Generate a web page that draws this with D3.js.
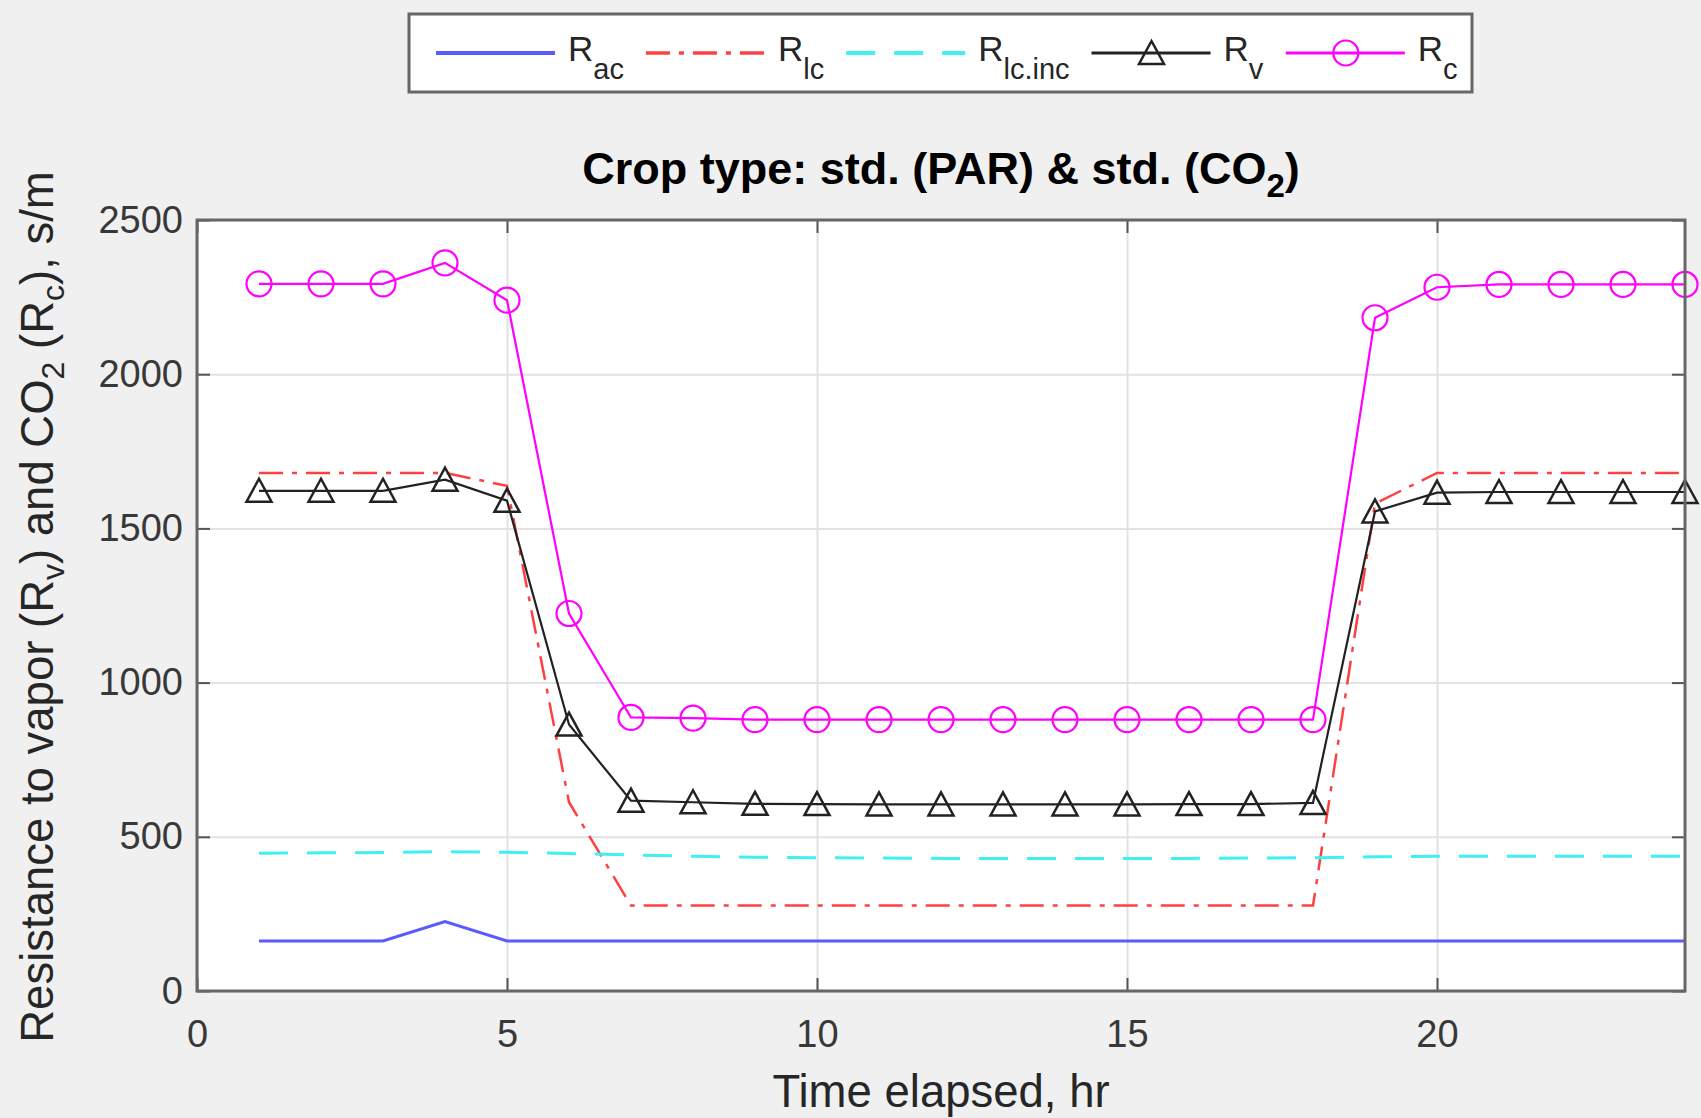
<!DOCTYPE html>
<html>
<head>
<meta charset="utf-8">
<script src="https://cdn.jsdelivr.net/npm/d3@7"></script>
<style>
  body { margin: 0; background: #f0f0f0; }
  svg { display: block; font-family: "Liberation Sans", Arial, sans-serif; }
</style>
</head>
<body>
<svg width="1701" height="1118"></svg>
<script>
// data (hours 1..24)
var hours  = [1,2,3,4,5,6,7,8,9,10,11,12,13,14,15,16,17,18,19,20,21,22,23,24];
var Rac    = [162,162,162,225,162,162,162,162,162,162,162,162,162,162,162,162,162,162,162,162,162,162,162,162];
var Rlc    = [1680,1680,1680,1680,1638,612,277,277,277,277,277,277,277,277,277,277,277,277,1580,1680,1680,1680,1680,1680];
var RlcInc = [447,448,449,452,450,446,441,437,434,432,431,430,430,430,430,430,431,432,435,437,437,437,437,437];
var Rv     = [1622,1622,1622,1658,1590,864,617,612,607,606,605,605,605,605,605,606,606,610,1555,1616,1618,1618,1618,1618];
var Rc     = [2293,2293,2293,2361,2240,1224,887,885,880,880,880,880,880,880,880,880,880,880,2183,2282,2291,2291,2291,2291];

var xTicks = [0,5,10,15,20];
var yTicks = [0,500,1000,1500,2000,2500];
var legendNames = [["R","ac"],["R","lc"],["R","lc.inc"],["R","v"],["R","c"]];

var svg = d3.select("svg");
var pL = 197, pR = 1685, pT = 220, pB = 991;

var x = d3.scaleLinear().domain([0, 24]).range([pL, pR]);
var y = d3.scaleLinear().domain([0, 2500]).range([pB, pT]);

// plot area
svg.append("rect")
   .attr("x", pL).attr("y", pT)
   .attr("width", pR - pL).attr("height", pB - pT)
   .attr("fill", "#fff");

// grid
var gx = svg.append("g").attr("transform", "translate(0," + pB + ")")
   .call(d3.axisBottom(x).tickValues(xTicks).tickSize(-(pB - pT)).tickFormat(""));
var gy = svg.append("g").attr("transform", "translate(" + pL + ",0)")
   .call(d3.axisLeft(y).tickValues(yTicks).tickSize(-(pR - pL)).tickFormat(""));
[gx, gy].forEach(function(g) {
  g.select(".domain").remove();
  g.selectAll("line").attr("stroke", "#e2e2e2").attr("stroke-width", 2);
});

// axes with inward ticks
var ax = svg.append("g").attr("transform", "translate(0," + pB + ")")
   .call(d3.axisBottom(x).tickValues(xTicks).tickFormat(d3.format("d"))
         .tickSizeInner(-13).tickSizeOuter(0).tickPadding(29));
var ay = svg.append("g").attr("transform", "translate(" + pL + ",0)")
   .call(d3.axisLeft(y).tickValues(yTicks).tickFormat(d3.format("d"))
         .tickSizeInner(-13).tickSizeOuter(0).tickPadding(14));
var axt = svg.append("g").attr("transform", "translate(0," + pT + ")")
   .call(d3.axisTop(x).tickValues(xTicks).tickSizeInner(-13).tickSizeOuter(0).tickFormat(""));
var ayr = svg.append("g").attr("transform", "translate(" + pR + ",0)")
   .call(d3.axisRight(y).tickValues(yTicks).tickSizeInner(-13).tickSizeOuter(0).tickFormat(""));
[ax, ay, axt, ayr].forEach(function(g) {
  g.select(".domain").remove();
  g.selectAll("line").attr("stroke", "#555").attr("stroke-width", 2);
  g.selectAll("text").attr("font-family", "Liberation Sans, Arial, sans-serif")
   .attr("font-size", 38).attr("fill", "#383838");
});

// series
var line = d3.line().x(function(d, i) { return x(hours[i]); }).y(function(d) { return y(d); });

var series = [
  {data: Rac,    color: "#5a5aff", width: 3,   dash: null},
  {data: Rlc,    color: "#ff4040", width: 2.5, dash: "24,9,5,9"},
  {data: RlcInc, color: "#3ff0f0", width: 3,   dash: "29,19"},
  {data: Rv,     color: "#222",    width: 2.2, dash: null, marker: "tri"},
  {data: Rc,     color: "#ff00ff", width: 2.2, dash: null, marker: "circ"}
];

var triPath = "M0,-12 L12.5,11 L-12.5,11 Z";

series.forEach(function(s) {
  svg.append("path")
     .attr("d", line(s.data))
     .attr("fill", "none")
     .attr("stroke", s.color)
     .attr("stroke-width", s.width)
     .attr("stroke-dasharray", s.dash);
  if (s.marker == "circ") {
    svg.append("g").selectAll("circle").data(s.data).enter().append("circle")
       .attr("cx", function(d, i) { return x(hours[i]); })
       .attr("cy", function(d) { return y(d); })
       .attr("r", 12.5)
       .attr("fill", "none").attr("stroke", s.color).attr("stroke-width", 2.2);
  }
  if (s.marker == "tri") {
    svg.append("g").selectAll("path").data(s.data).enter().append("path")
       .attr("d", triPath)
       .attr("transform", function(d, i) { return "translate(" + x(hours[i]) + "," + y(d) + ")"; })
       .attr("fill", "none").attr("stroke", s.color).attr("stroke-width", 2.5);
  }
});

// box
svg.append("rect")
   .attr("x", pL).attr("y", pT)
   .attr("width", pR - pL).attr("height", pB - pT)
   .attr("fill", "none").attr("stroke", "#666").attr("stroke-width", 3);

// title
var title = svg.append("text")
   .attr("x", (pL + pR) / 2).attr("y", 184)
   .attr("text-anchor", "middle")
   .attr("font-size", 45).attr("font-weight", "bold").attr("fill", "#000");
title.append("tspan").text("Crop type: std. (PAR) & std. (CO");
title.append("tspan").attr("font-size", 33).attr("dy", 13).text("2");
title.append("tspan").attr("dy", -13).text(")");

// x label
svg.append("text")
   .attr("x", (pL + pR) / 2).attr("y", 1107)
   .attr("text-anchor", "middle")
   .attr("font-size", 45.5).attr("fill", "#262626")
   .text("Time elapsed, hr");

// y label
var yl = svg.append("text")
   .attr("transform", "translate(53," + 607 + ") rotate(-90)")
   .attr("text-anchor", "middle")
   .attr("font-size", 45.5).attr("fill", "#262626");
yl.append("tspan").text("Resistance to vapor (R");
yl.append("tspan").attr("font-size", 32).attr("dy", 11).text("v");
yl.append("tspan").attr("dy", -11).text(") and CO");
yl.append("tspan").attr("font-size", 32).attr("dy", 11).text("2");
yl.append("tspan").attr("dy", -11).text(" (R");
yl.append("tspan").attr("font-size", 32).attr("dy", 11).text("c");
yl.append("tspan").attr("dy", -11).text("), s/m");

// legend
var lg = svg.append("g");
lg.append("rect")
  .attr("x", 409).attr("y", 14).attr("width", 1063).attr("height", 78)
  .attr("fill", "#fff").attr("stroke", "#666").attr("stroke-width", 3);

var lx = 436, ly = 53;
series.forEach(function(s, k) {
  lg.append("line")
    .attr("x1", lx).attr("x2", lx + 119).attr("y1", ly).attr("y2", ly)
    .attr("stroke", s.color).attr("stroke-width", s.width + 1)
    .attr("stroke-dasharray", s.dash);
  if (s.marker == "circ") {
    lg.append("circle").attr("cx", lx + 60).attr("cy", ly).attr("r", 12.5)
      .attr("fill", "none").attr("stroke", s.color).attr("stroke-width", 2.2);
  }
  if (s.marker == "tri") {
    lg.append("path").attr("d", triPath)
      .attr("transform", "translate(" + (lx + 60) + "," + ly + ")")
      .attr("fill", "none").attr("stroke", s.color).attr("stroke-width", 2.5);
  }
  var t = lg.append("text")
    .attr("x", lx + 132).attr("y", ly + 8)
    .attr("font-size", 35).attr("fill", "#262626");
  t.append("tspan").text(legendNames[k][0]);
  t.append("tspan").attr("font-size", 29).attr("dy", 18).text(legendNames[k][1]);
  var w = t.node().getBBox().width;
  lx = lx + 132 + w + 22;
});
</script>
</body>
</html>
